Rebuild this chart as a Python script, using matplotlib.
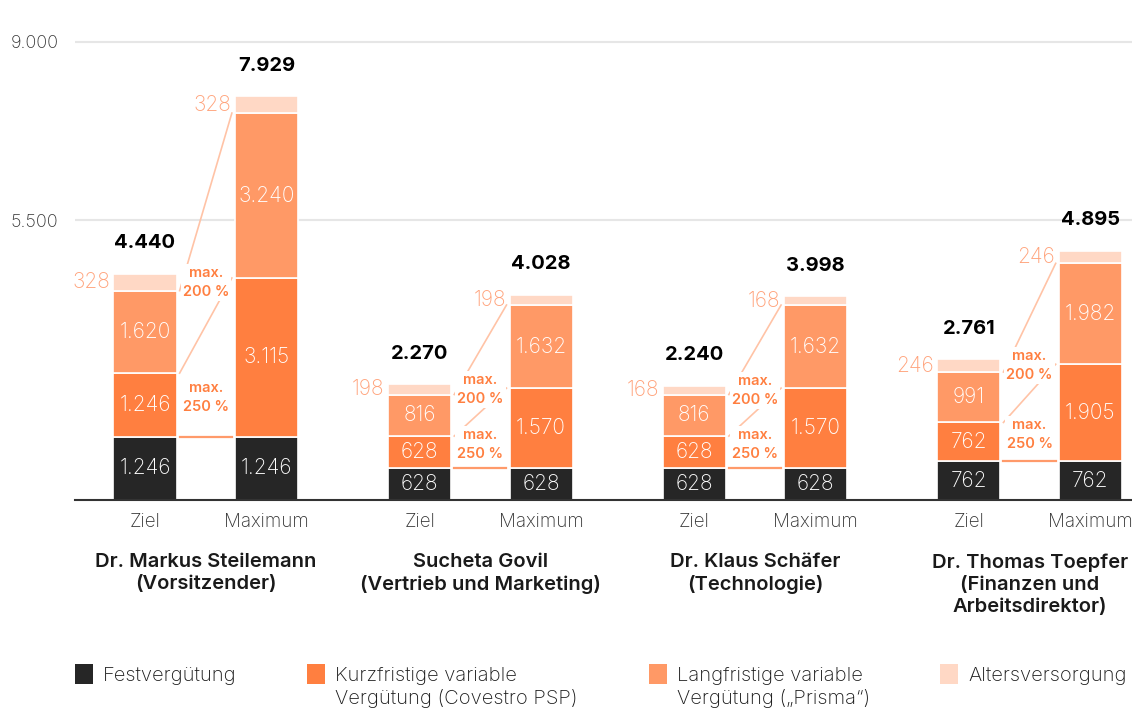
import numpy as np
import matplotlib
matplotlib.use("Agg")
import matplotlib.pyplot as plt
import matplotlib.transforms as mtransforms
from matplotlib.patches import Rectangle

plt.rcParams['font.family'] = ['Inter', 'DejaVu Sans']

# Vergütung in Tsd. EUR, je Vorstandsmitglied: Ziel und Maximum
names = [
    "Dr. Markus Steilemann\n(Vorsitzender)",
    "Sucheta Govil\n(Vertrieb und Marketing)",
    "Dr. Klaus Schäfer\n(Technologie)",
    "Dr. Thomas Toepfer\n(Finanzen und\nArbeitsdirektor)",
]
fest_ziel = [1246, 628, 628, 762]
fest_max = [1246, 628, 628, 762]
kurz_ziel = [1246, 628, 628, 762]
kurz_max = [3115, 1570, 1570, 1905]
lang_ziel = [1620, 816, 816, 991]
lang_max = [3240, 1632, 1632, 1982]
alters_ziel = [328, 198, 168, 246]
alters_max = [328, 198, 168, 246]

legend_labels = [
    "Festvergütung",
    "Kurzfristige variable\nVergütung (Covestro PSP)",
    "Langfristige variable\nVergütung (\u201ePrisma\u201c)",
    "Altersversorgung",
]
colors = ["#262626", "#FF7F40", "#FF9966", "#FFD8C5"]
alters_text = "#FFA27A"
accent = "#FF7F40"


def fmt(v):
    return f"{v:,}".replace(",", ".")


fig = plt.figure(figsize=(11.32, 7.08), dpi=100)
ax = fig.add_axes([75 / 1132, 1 - 500 / 708, 1 - 75 / 1132, 478 / 708])

group_step = 2.26
bar_w = 0.52
ziel_x = np.arange(len(names)) * group_step
max_x = ziel_x + 1.0

ziel = np.array([fest_ziel, kurz_ziel, lang_ziel, alters_ziel], dtype=float)
maxi = np.array([fest_max, kurz_max, lang_max, alters_max], dtype=float)

for xs, stack in [(ziel_x, ziel), (max_x, maxi)]:
    bottom = np.zeros(len(names))
    for k in range(4):
        ax.bar(xs, stack[k], bar_w, bottom=bottom, color=colors[k],
               edgecolor="white", linewidth=1.2, zorder=3)
        for i, x in enumerate(xs):
            v = stack[k][i]
            if k < 3:
                ax.text(x, bottom[i] + v / 2, fmt(int(v)), ha="center", va="center",
                        color="white", fontsize=15, fontweight="light", zorder=4)
            else:
                ax.text(x - bar_w / 2 - 0.03, bottom[i] + v / 2, fmt(int(v)),
                        ha="right", va="center", color=alters_text,
                        fontsize=15, fontweight="light", zorder=4)
        bottom += stack[k]
    for i, x in enumerate(xs):
        ax.text(x, bottom[i] + 600, fmt(int(bottom[i])), ha="center", va="center",
                color="black", fontsize=14.5, fontweight="bold", zorder=4)

# Verbindungslinien Ziel -> Maximum
gap = 0.025
for i in range(len(names)):
    x0 = ziel_x[i] + bar_w / 2 + gap
    x1 = max_x[i] - bar_w / 2 - gap
    cz = np.cumsum(ziel[:, i])
    cm = np.cumsum(maxi[:, i])
    ax.plot([x0, x1], [cz[1], cm[1]], color="#FFC3A6", lw=1.2, zorder=2)
    ax.plot([x0, x1], [cz[2], cm[2]], color="#FFC3A6", lw=1.2, zorder=2)
    ax.plot([x0, x1], [cz[0], cm[0]], color="#FF9A6A", lw=1.6, zorder=2)
    xm = (ziel_x[i] + max_x[i]) / 2
    ax.text(xm, cz[2] + ziel[3, i] / 2, "max.\n200 %", ha="center", va="center",
            color=accent, fontsize=10.5, fontweight="semibold", linespacing=1.45,
            zorder=5, bbox=dict(facecolor="white", edgecolor="none", pad=1.5))
    ax.text(xm, cz[0] + ziel[1, i] / 2 + 150, "max.\n250 %", ha="center", va="center",
            color=accent, fontsize=10.5, fontweight="semibold", linespacing=1.45,
            zorder=5, bbox=dict(facecolor="white", edgecolor="none", pad=1.5))

ax.set_xlim(-0.576, 8.123)
ax.set_ylim(0, 9390)
ax.set_yticks([5500, 9000])
ax.set_yticklabels(["5.500", "9.000"], fontsize=13, fontweight="light", color="#333333")
ax.yaxis.grid(True, color="#E6E6E6", lw=1.5, zorder=0)
ax.set_axisbelow(True)

xt = np.ravel(np.column_stack([ziel_x, max_x]))
ax.set_xticks(xt)
ax.set_xticklabels(["Ziel", "Maximum"] * len(names), fontsize=13.5,
                   fontweight="light", color="#333333")
ax.tick_params(axis="both", length=0)
ax.tick_params(axis="x", pad=9.5)
ax.tick_params(axis="y", pad=12)

for side in ["top", "right", "left"]:
    ax.spines[side].set_visible(False)
ax.spines["bottom"].set_color("#333333")
ax.spines["bottom"].set_linewidth(1.5)
ax.spines["bottom"].set_zorder(6)

trans = mtransforms.blended_transform_factory(ax.transData, fig.transFigure)
for i, name in enumerate(names):
    ax.text((ziel_x[i] + max_x[i]) / 2, 1 - 553 / 708, name, transform=trans,
            ha="center", va="top", fontsize=14.5, fontweight="semibold",
            color="#1a1a1a", linespacing=1.3)

# Legende
leg_x = [75, 307, 649, 940]
for lx, lab, c in zip(leg_x, legend_labels, colors):
    fig.patches.append(Rectangle((lx / 1132, 1 - 684 / 708), 18 / 1132, 20 / 708,
                                 transform=fig.transFigure, facecolor=c,
                                 edgecolor="none"))
    fig.text((lx + 28) / 1132, 1 - 667 / 708, lab, ha="left", va="top",
             fontsize=14.5, fontweight="light", color="#1a1a1a", linespacing=1.25)

fig.savefig("out.png", dpi=100)
